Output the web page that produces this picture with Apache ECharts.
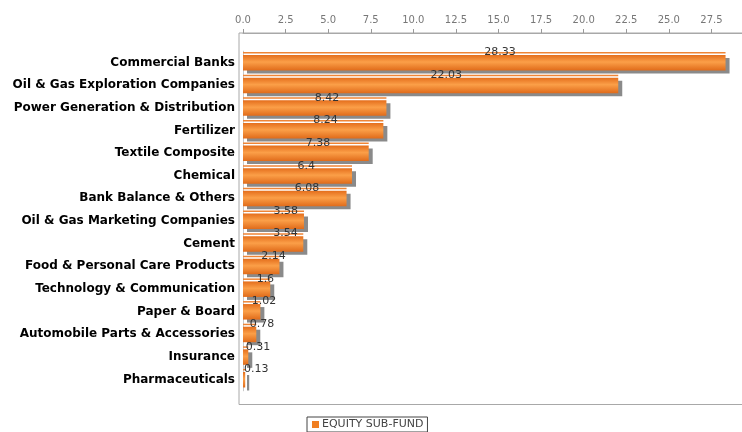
<!DOCTYPE html>
<html>
<head>
<meta charset="utf-8">
<script src="https://cdn.jsdelivr.net/npm/echarts@6/dist/echarts.min.js"></script>
<style>html,body{margin:0;padding:0;background:#fff;}#c{width:742px;height:432px;}</style>
</head>
<body>
<div id="c"></div>
<script>
var categories = [
  'Commercial Banks',
  'Oil & Gas Exploration Companies',
  'Power Generation & Distribution',
  'Fertilizer',
  'Textile Composite',
  'Chemical',
  'Bank Balance & Others',
  'Oil & Gas Marketing Companies',
  'Cement',
  'Food & Personal Care Products',
  'Technology & Communication',
  'Paper & Board',
  'Automobile Parts & Accessories',
  'Insurance',
  'Pharmaceuticals'
];
var values = [28.33, 22.03, 8.42, 8.24, 7.38, 6.4, 6.08, 3.58, 3.54, 2.14, 1.6, 1.02, 0.78, 0.31, 0.13];
var seriesName = 'EQUITY SUB-FUND';

var chart = echarts.init(document.getElementById('c'), null, {renderer: 'canvas'});

var frontGradient = new echarts.graphic.LinearGradient(0, 0, 0, 1, [
  {offset: 0, color: '#e46e1c'},
  {offset: 0.45, color: '#fb9f48'},
  {offset: 1, color: '#e06b1a'}
]);

function renderBar(params, api) {
  var v = api.value(0);
  var idx = api.value(1);
  var p0 = api.coord([0, idx]);
  var p1 = api.coord([v, idx]);
  var c = p0[1];
  var x0 = p0[0];
  var w = Math.max(p1[0] - p0[0], 1);
  return {
    type: 'group',
    children: [
      {type: 'rect', shape: {x: x0 + 4, y: c - 7.5 + 3, width: w, height: 15.5}, style: {fill: '#8a8a8a'}},
      {type: 'rect', shape: {x: x0, y: c - 7.5, width: w, height: 15.5}, style: {fill: frontGradient}},
      {type: 'rect', shape: {x: x0, y: c - 10.5, width: w, height: 1.5}, style: {fill: '#ef8536'}},
      {type: 'text', z2: 10, style: {
        text: String(values[params.dataIndex]),
        x: x0 + w / 2, y: c - 10,
        fill: '#333', fontSize: 11, fontFamily: 'DejaVu Sans',
        align: 'left', verticalAlign: 'middle'
      }}
    ]
  };
}

var option = {
  animation: false,
  backgroundColor: '#fff',
  grid: [
    {left: 243, width: 511, top: 51.2, height: 339.6, containLabel: false, outerBoundsMode: 'none'},
    {left: 239, width: 700, top: 33, height: 371.5, outerBoundsMode: 'none', show: true, borderColor: '#a8a8a8', borderWidth: 1, backgroundColor: 'transparent'}
  ],
  xAxis: [
    {
      gridIndex: 0, type: 'value', position: 'top', offset: 18.2,
      min: 0, max: 30, interval: 2.5,
      axisLine: {show: true, lineStyle: {color: '#a8a8a8'}},
      axisTick: {show: true, inside: false, length: 4, lineStyle: {color: '#999'}},
      axisLabel: {
        margin: 8, color: '#777', fontSize: 10, fontFamily: 'DejaVu Sans',
        formatter: function (v) { return v.toFixed(1); }
      },
      splitLine: {show: false}
    },
    {gridIndex: 1, type: 'value', show: false, min: 0, max: 1}
  ],
  yAxis: [
    {
      gridIndex: 0, type: 'category', inverse: true, data: categories,
      axisLine: {show: true, lineStyle: {color: '#c8c8c8'}},
      axisTick: {show: false},
      axisLabel: {margin: 8, color: '#000', fontSize: 12, fontWeight: 'bold', fontFamily: 'DejaVu Sans'},
      splitLine: {show: false}
    },
    {gridIndex: 1, type: 'value', show: false, min: 0, max: 1}
  ],
  legend: {
    left: 307, top: 417,
    data: [{name: seriesName, icon: 'rect', itemStyle: {color: '#f07f22'}}],
    itemWidth: 7, itemHeight: 7, itemGap: 4,
    borderColor: '#444', borderWidth: 1, padding: [2, 4, 2, 5],
    textStyle: {fontSize: 11, color: '#444', fontFamily: 'DejaVu Sans', padding: [0, 0, 0, -2]}
  },
  series: [{
    name: seriesName,
    type: 'custom',
    xAxisIndex: 0, yAxisIndex: 0,
    itemStyle: {color: '#f07f22'},
    encode: {x: 0, y: 1},
    data: values.map(function (v, i) { return [v, i]; }),
    renderItem: renderBar
  }]
};
chart.setOption(option);
</script>
</body>
</html>
